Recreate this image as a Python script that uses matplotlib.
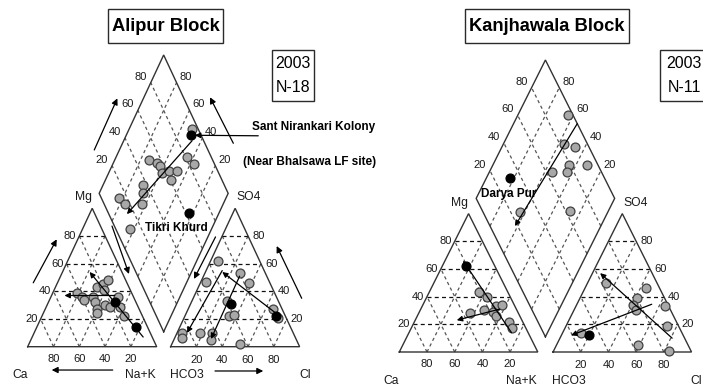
import numpy as np
import matplotlib
matplotlib.use("Agg")
import matplotlib.pyplot as plt
from matplotlib.patches import Rectangle, FancyArrowPatch

plt.rcParams["font.family"] = ["Liberation Sans", "DejaVu Sans"]

W, H = 703, 387
H3 = np.sqrt(3) / 2
PT = 0.72  # points per pixel at 100 dpi

# ---------------- Alipur Block (2003, N-18) ----------------
alipur_cat_ca = [42, 40, 39, 31, 32, 33, 34, 25, 19, 14, 25, 22, 16, 12, 14, 14, 9, 20]
alipur_cat_mg = [39, 36, 34, 36, 32, 27, 24, 43, 45, 48, 30, 29, 32, 36, 29, 22, 14, 41]
alipur_cat_dark = [0, 0, 0, 0, 0, 0, 0, 0, 0, 0, 0, 0, 1, 0, 0, 0, 1, 0]

alipur_an_cl = [6, 4, 27, 38, 27, 31, 34, 38, 66, 71, 73, 4, 6, 18, 27, 29, 53]
alipur_an_so4 = [62, 47, 53, 46, 33, 31, 22, 23, 27, 22, 21, 10, 6, 10, 10, 5, 2]
alipur_an_dark = [0, 0, 0, 0, 0, 1, 0, 0, 0, 1, 0, 0, 0, 0, 0, 0, 0]

alipur_dia_camg = [51.5, 50, 45, 37, 73, 66, 63, 59, 54, 48, 49, 69, 66, 83, 76, 63, 63, 23]
alipur_dia_so4cl = [94.7, 92, 81, 84, 51, 56, 57, 56, 62, 68, 61, 37, 34, 14, 16, 29, 11, 63]
alipur_dia_dark = [0, 1, 0, 0, 0, 0, 0, 0, 0, 0, 0, 0, 0, 0, 0, 0, 0, 1]

# trend arrows: (start, end) pairs
alipur_cat_trend = [((7, 7), (25, 54)), ((14, 37), (53, 37))]            # (Ca, Mg)
alipur_an_trend = [((12.5, 55), (7.7, 10)), ((28, 51), (28.5, 5.6)),
                   ((68, 25), (13, 54))]                                 # (Cl, SO4)
alipur_dia_trend = [((47, 91), (71, 14))]                                # (Ca+Mg, SO4+Cl)

# ---------------- Kanjhawala Block (2003, N-11) ----------------
kanj_cat_ca = [21, 21, 17, 35, 24, 14, 9, 18, 17, 10, 10]
kanj_cat_mg = [62, 43, 40, 28, 30, 33, 34, 29, 26, 22, 17]
kanj_cat_dark = [1, 0, 0, 0, 0, 0, 0, 0, 0, 0, 0]

kanj_an_cl = [13, 44, 41, 41, 45, 64, 72.5, 13, 20, 59, 83]
kanj_an_so4 = [50, 46, 39, 34, 30, 33, 19, 14, 12, 5, 1]
kanj_an_dark = [0, 0, 0, 0, 0, 0, 0, 0, 1, 0, 0]

kanj_dia_camg = [64, 56, 47, 45, 32, 44, 55, 63, 28, 83]
kanj_dia_so4cl = [96, 83, 90, 79, 92, 75, 64, 27, 63, 32]
kanj_dia_dark = [0, 0, 0, 0, 0, 0, 0, 0, 0, 1]

kanj_cat_trend = [((12, 14), (21, 66)), ((12, 31), (47, 23))]
kanj_an_trend = [((81, 10), (5.5, 57)), ((54, 34.5), (7, 12))]
kanj_dia_trend = [((54, 100), (62, 18))]

TICKS = [20, 40, 60, 80]

EDGE = "#333333"
GRID_DIAG = "#555555"
GRID_HOR = "#111111"
GRAY_FILL = "#a8a8a8"
GRAY_EDGE = "#404040"


def cation_xy(ca, mg):
    ca = np.asarray(ca, float) / 100
    mg = np.asarray(mg, float) / 100
    na = 1 - ca - mg
    return na + mg / 2, mg * H3


def anion_xy(cl, so4, gap):
    cl = np.asarray(cl, float) / 100
    so4 = np.asarray(so4, float) / 100
    return 1 + gap + cl + so4 / 2, so4 * H3


def diamond_xy(camg, so4cl, gap):
    a = np.asarray(camg, float) / 100
    b = np.asarray(so4cl, float) / 100
    return 1 + gap / 2 + (b - a) / 2, gap * H3 + (a + b) * H3


def make_panel(fig, x0, y0, sx, sy):
    ax = fig.add_axes([0, 0, 1, 1])
    ax.set_xlim(-x0 / sx, (W - x0) / sx)
    ax.set_ylim((y0 - H) / sy, y0 / sy)
    ax.axis("off")
    ax.patch.set_alpha(0)
    return ax


def line(ax, xs, ys, color, ls="-", lw=0.9, dashes=None, z=2):
    l, = ax.plot(xs, ys, color=color, lw=lw, ls=ls, zorder=z, clip_on=False,
                 solid_joinstyle="miter")
    if dashes is not None:
        l.set_dashes(dashes)
    return l


def tick_label(ax, x, y, s, dx, dy, ha="center", size=8):
    ax.annotate(s, (x, y), xytext=(dx * PT, -dy * PT), textcoords="offset points",
                ha=ha, va="center", fontsize=size, color="#1a1a1a",
                annotation_clip=False)


def draw_frame(ax, gap):
    hd = (3.2, 2.6)
    dd = (2.6, 2.4)
    # triangle outlines
    for off in (0, 1 + gap):
        line(ax, [off, off + 1, off + 0.5, off], [0, 0, H3, 0], EDGE, lw=1.0, z=3)
    bx, by = 1 + gap / 2, gap * H3
    line(ax, [bx, bx - 0.5, bx, bx + 0.5, bx], [by, by + H3, by + 2 * H3, by + H3, by],
         EDGE, lw=1.0, z=3)
    for t in TICKS:
        p = t / 100
        # cation triangle
        line(ax, [p / 2, 1 - p / 2], [p * H3] * 2, GRID_HOR, dashes=hd, lw=0.9)
        line(ax, [1 - p, (1 - p) / 2], [0, (1 - p) * H3], GRID_DIAG, dashes=dd, lw=0.9)
        line(ax, [p, p + (1 - p) / 2], [0, (1 - p) * H3], GRID_DIAG, dashes=dd, lw=0.9)
        # anion triangle
        o = 1 + gap
        line(ax, [o + p / 2, o + 1 - p / 2], [p * H3] * 2, GRID_HOR, dashes=hd, lw=0.9)
        line(ax, [o + p, o + p + (1 - p) / 2], [0, (1 - p) * H3], GRID_DIAG, dashes=dd, lw=0.9)
        line(ax, [o + 1 - p, o + (1 - p) / 2], [0, (1 - p) * H3], GRID_DIAG, dashes=dd, lw=0.9)
        # diamond
        line(ax, [bx - p / 2, bx - p / 2 + 0.5], [by + p * H3, by + p * H3 + H3],
             GRID_DIAG, dashes=dd, lw=0.9)
        line(ax, [bx + p / 2, bx + p / 2 - 0.5], [by + p * H3, by + p * H3 + H3],
             GRID_DIAG, dashes=dd, lw=0.9)

        # labels
        tick_label(ax, p, 0, str(100 - t), 0, 12)
        tick_label(ax, p / 2, p * H3, str(t), -3, 0, ha="right")
        tick_label(ax, o + p, 0, str(t), 0, 13)
        tick_label(ax, o + 1 - p / 2, p * H3, str(t), 4, 0, ha="left")
        tick_label(ax, bx - 0.5 + p / 2, by + H3 + p * H3, str(t), -10, -6)
        tick_label(ax, bx + 0.5 - p / 2, by + H3 + p * H3, str(t), 9, -6)

    # corner names
    cs = 8.7
    tick_label(ax, 0.5, H3, "Mg", -9, -11, size=cs)
    tick_label(ax, 1.5 + gap, H3, "SO4", 13, -11, size=cs)
    tick_label(ax, 0, 0, "Ca", -8, 28.5, size=cs)
    tick_label(ax, 1, 0, "Na+K", -16, 28.5, size=cs)
    tick_label(ax, 1 + gap, 0, "HCO3", 16, 28.5, size=cs)
    tick_label(ax, 2 + gap, 0, "Cl", 5, 28.5, size=cs)


def draw_points(ax, xs, ys, dark):
    xs, ys, dark = np.asarray(xs), np.asarray(ys), np.asarray(dark, bool)
    ax.plot(xs[~dark], ys[~dark], "o", ms=6.4, mfc=GRAY_FILL, mec=GRAY_EDGE, mew=0.9,
            zorder=5, clip_on=False)
    ax.plot(xs[dark], ys[dark], "o", ms=6.4, mfc="black", mec="black", mew=0.9,
            zorder=6, clip_on=False)


def arrow(ax, start, end, lw=0.9, ms=8):
    ax.add_patch(FancyArrowPatch(start, end, arrowstyle="-|>", mutation_scale=ms,
                                 lw=lw, color="black", shrinkA=0, shrinkB=0,
                                 zorder=7, clip_on=False))


def draw_trends(ax, gap, cat, an, dia):
    for (s, e) in cat:
        xs, ys = cation_xy([s[0], e[0]], [s[1], e[1]])
        arrow(ax, (xs[0], ys[0]), (xs[1], ys[1]))
    for (s, e) in an:
        xs, ys = anion_xy([s[0], e[0]], [s[1], e[1]], gap)
        arrow(ax, (xs[0], ys[0]), (xs[1], ys[1]))
    for (s, e) in dia:
        xs, ys = diamond_xy([s[0], e[0]], [s[1], e[1]], gap)
        arrow(ax, (xs[0], ys[0]), (xs[1], ys[1]))


fig = plt.figure(figsize=(W / 100, H / 100), dpi=100)
fig.patch.set_facecolor("white")

# ---- left panel ----
gap_a = 0.108
axa = make_panel(fig, 27.7, 346.7, 129.0, 159.8)
draw_frame(axa, gap_a)
draw_points(axa, *cation_xy(alipur_cat_ca, alipur_cat_mg), alipur_cat_dark)
draw_points(axa, *anion_xy(alipur_an_cl, alipur_an_so4, gap_a), alipur_an_dark)
draw_points(axa, *diamond_xy(alipur_dia_camg, alipur_dia_so4cl, gap_a), alipur_dia_dark)
draw_trends(axa, gap_a, alipur_cat_trend, alipur_an_trend, alipur_dia_trend)

# direction arrows beside the axes of the left diagram
guide_arrows = [
    ((0.043, 0.400), (0.225, 0.672)),
    ((2.124, 0.303), (1.930, 0.630)),
    ((0.516, 1.231), (0.695, 1.554)),
    ((1.594, 1.273), (1.413, 1.561)),
    ((0.659, -0.146), (0.186, -0.146)),
    ((1.452, -0.152), (1.826, -0.152)),
    ((0.6535, 0.755), (0.785, 0.455)),
    ((1.456, 0.687), (1.289, 0.424)),
]
for s, e in guide_arrows:
    arrow(axa, s, e, lw=0.9, ms=9)

# site labels (left)
sx_, sy_ = diamond_xy([alipur_dia_camg[1]], [alipur_dia_so4cl[1]], gap_a)
axa.annotate("", xy=(sx_[0], sy_[0]), xytext=(48.6, -0.4), textcoords="offset points",
             arrowprops=dict(arrowstyle="-|>", lw=0.9, color="black", shrinkA=0,
                             shrinkB=3, mutation_scale=8), annotation_clip=False)
axa.annotate("Sant Nirankari Kolony", (sx_[0], sy_[0]), xytext=(44.0, 5.6),
             textcoords="offset points", ha="left", va="center", fontsize=8.5,
             fontweight="bold", annotation_clip=False)
axa.annotate("(Near Bhalsawa LF site)", (sx_[0], sy_[0]), xytext=(37.3, -19.3),
             textcoords="offset points", ha="left", va="center", fontsize=8.5,
             fontweight="bold", annotation_clip=False)
tx, ty = diamond_xy([alipur_dia_camg[17]], [alipur_dia_so4cl[17]], gap_a)
axa.annotate("Tikri Khurd", (tx[0], ty[0]), xytext=(-9.1, -11.0),
             textcoords="offset points", ha="center", va="center", fontsize=8.5,
             fontweight="bold", annotation_clip=False, zorder=8)

# ---- right panel ----
gap_k = 0.11
axk = make_panel(fig, 399.3, 352.0, 138.5, 159.8)
draw_frame(axk, gap_k)
draw_points(axk, *cation_xy(kanj_cat_ca, kanj_cat_mg), kanj_cat_dark)
draw_points(axk, *anion_xy(kanj_an_cl, kanj_an_so4, gap_k), kanj_an_dark)
draw_points(axk, *diamond_xy(kanj_dia_camg, kanj_dia_so4cl, gap_k), kanj_dia_dark)
draw_trends(axk, gap_k, kanj_cat_trend, kanj_an_trend, kanj_dia_trend)

dx_, dy_ = diamond_xy([kanj_dia_camg[9]], [kanj_dia_so4cl[9]], gap_k)
axk.annotate("Darya Pur", (dx_[0], dy_[0]), xytext=(-0.7, -11.5),
             textcoords="offset points", ha="center", va="center", fontsize=8.5,
             fontweight="bold", annotation_clip=False, zorder=8)


# ---- headings and sample boxes (figure pixel layout) ----
def box(x1, y1, x2, y2):
    fig.add_artist(Rectangle((x1 / W, 1 - y2 / H), (x2 - x1) / W, (y2 - y1) / H,
                             transform=fig.transFigure, fc="white", ec="#2a2a2a",
                             lw=1.0, zorder=10))


def ftext(x, y, s, **kw):
    fig.text(x / W, 1 - y / H, s, ha="center", va="center", zorder=11, **kw)


box(108.3, 9.3, 223.3, 43.3)
ftext(165.8, 26.8, "Alipur Block", fontsize=13.2, fontweight="bold")
box(271.7, 50, 314, 101)
ftext(293, 63.5, "2003", fontsize=11.5)
ftext(293, 87.5, "N-18", fontsize=11.5)

box(465, 9.3, 629.3, 43.3)
ftext(547, 26.8, "Kanjhawala Block", fontsize=13.2, fontweight="bold")
box(660, 50, 710, 101)
ftext(684, 63.5, "2003", fontsize=11.5)
ftext(684, 87.5, "N-11", fontsize=11.5)

fig.savefig("out.png", dpi=100, facecolor="white")
